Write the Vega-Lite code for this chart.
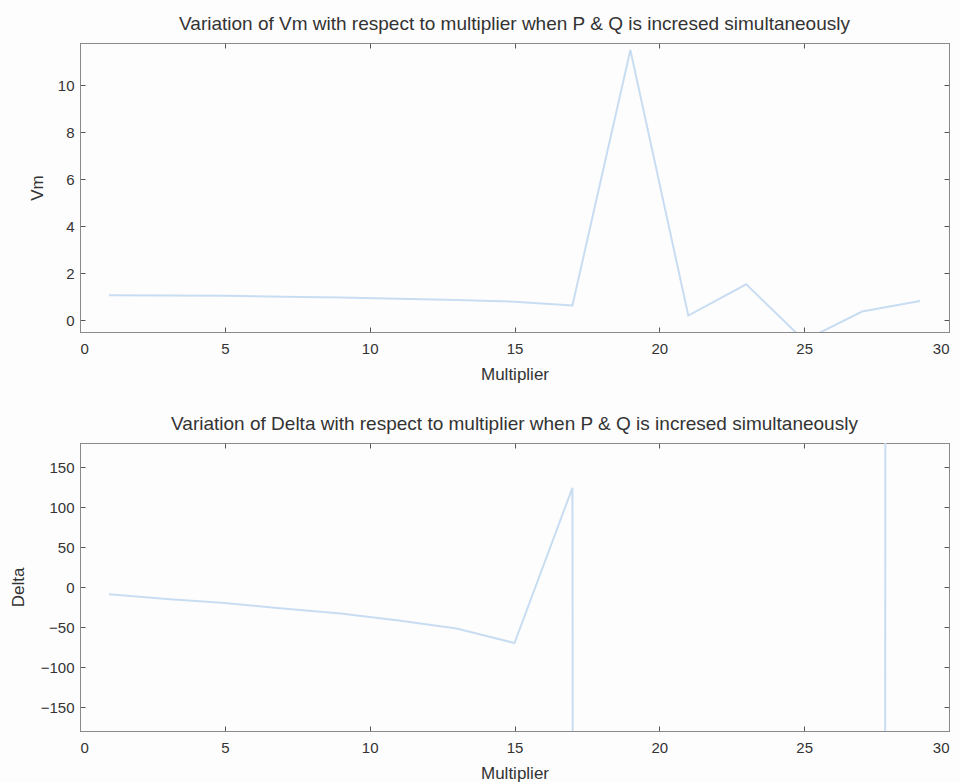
{
  "$schema": "https://vega.github.io/schema/vega-lite/v6.json",
  "background": "#fdfdfd",
  "padding": {"left": 8, "top": 14, "right": 10, "bottom": 0},
  "spacing": 31,
  "config": {
    "font": "Liberation Sans",
    "view": {"stroke": "#8a8a8a", "strokeWidth": 1},
    "axis": {
      "grid": false,
      "domainColor": "#8a8a8a",
      "tickColor": "#555",
      "tickSize": -5,
      "labelPadding": 14,
      "labelFont": "Liberation Sans",
      "labelFontSize": 15,
      "labelColor": "#333",
      "titleFont": "Liberation Sans",
      "titleFontSize": 17,
      "titleFontWeight": "normal",
      "titleColor": "#333"
    },
    "axisY": {"labelPadding": 11},
    "title": {"font": "Liberation Sans", "fontSize": 19, "fontWeight": "normal", "color": "#333", "offset": 9}
  },
  "datasets": {
    "vm": [
      {"Multiplier": 1, "Vm": 1.06},
      {"Multiplier": 3, "Vm": 1.05},
      {"Multiplier": 5, "Vm": 1.04},
      {"Multiplier": 7, "Vm": 1.0},
      {"Multiplier": 9, "Vm": 0.97},
      {"Multiplier": 11, "Vm": 0.92},
      {"Multiplier": 13, "Vm": 0.86},
      {"Multiplier": 15, "Vm": 0.79},
      {"Multiplier": 17, "Vm": 0.63},
      {"Multiplier": 19, "Vm": 11.5},
      {"Multiplier": 21, "Vm": 0.2},
      {"Multiplier": 23, "Vm": 1.53},
      {"Multiplier": 25, "Vm": -0.86},
      {"Multiplier": 27, "Vm": 0.37},
      {"Multiplier": 29, "Vm": 0.82}
    ],
    "delta": [
      {"Multiplier": 1, "Delta": -9},
      {"Multiplier": 3, "Delta": -15},
      {"Multiplier": 5, "Delta": -20},
      {"Multiplier": 7, "Delta": -27},
      {"Multiplier": 9, "Delta": -33},
      {"Multiplier": 11, "Delta": -42},
      {"Multiplier": 13, "Delta": -52},
      {"Multiplier": 15, "Delta": -70},
      {"Multiplier": 17, "Delta": 124},
      {"Multiplier": 19, "Delta": -60000},
      {"Multiplier": 21, "Delta": -50000},
      {"Multiplier": 23, "Delta": -45000},
      {"Multiplier": 25, "Delta": -55000},
      {"Multiplier": 27, "Delta": -40000},
      {"Multiplier": 29, "Delta": 60000}
    ]
  },
  "vconcat": [
    {
      "title": "Variation of Vm with respect to multiplier when P & Q is incresed simultaneously",
      "width": 869,
      "height": 289,
      "data": {"name": "vm"},
      "resolve": {"axis": {"x": "independent", "y": "independent"}},
      "layer": [
        {
          "mark": {"type": "line", "color": "#c9ddf2", "strokeWidth": 2, "clip": true},
          "encoding": {
            "x": {"field": "Multiplier", "type": "quantitative", "scale": {"domain": [0, 30], "nice": false, "zero": false}, "axis": {"values": [0, 5, 10, 15, 20, 25, 30], "title": "Multiplier", "titlePadding": 10}},
            "y": {"field": "Vm", "type": "quantitative", "scale": {"domain": [-0.5, 11.8], "nice": false, "zero": false}, "axis": {"values": [0, 2, 4, 6, 8, 10], "title": "Vm", "titlePadding": 11}}
          }
        },
        {
          "mark": {"type": "line", "opacity": 0, "clip": true},
          "encoding": {
            "x": {"field": "Multiplier", "type": "quantitative", "axis": {"orient": "top", "labels": false, "title": null, "values": [0, 5, 10, 15, 20, 25, 30]}},
            "y": {"field": "Vm", "type": "quantitative", "axis": {"orient": "right", "labels": false, "title": null, "values": [0, 2, 4, 6, 8, 10]}}
          }
        }
      ]
    },
    {
      "title": "Variation of Delta with respect to multiplier when P & Q is incresed simultaneously",
      "width": 869,
      "height": 288,
      "data": {"name": "delta"},
      "resolve": {"axis": {"x": "independent", "y": "independent"}},
      "layer": [
        {
          "mark": {"type": "line", "color": "#c9ddf2", "strokeWidth": 2, "clip": true},
          "encoding": {
            "x": {"field": "Multiplier", "type": "quantitative", "scale": {"domain": [0, 30], "nice": false, "zero": false}, "axis": {"values": [0, 5, 10, 15, 20, 25, 30], "title": "Multiplier", "titlePadding": 10}},
            "y": {"field": "Delta", "type": "quantitative", "scale": {"domain": [-180, 180], "nice": false, "zero": false}, "axis": {"values": [-150, -100, -50, 0, 50, 100, 150], "title": "Delta", "titlePadding": 13}}
          }
        },
        {
          "mark": {"type": "line", "opacity": 0, "clip": true},
          "encoding": {
            "x": {"field": "Multiplier", "type": "quantitative", "axis": {"orient": "top", "labels": false, "title": null, "values": [0, 5, 10, 15, 20, 25, 30]}},
            "y": {"field": "Delta", "type": "quantitative", "axis": {"orient": "right", "labels": false, "title": null, "values": [-150, -100, -50, 0, 50, 100, 150]}}
          }
        }
      ]
    }
  ]
}
